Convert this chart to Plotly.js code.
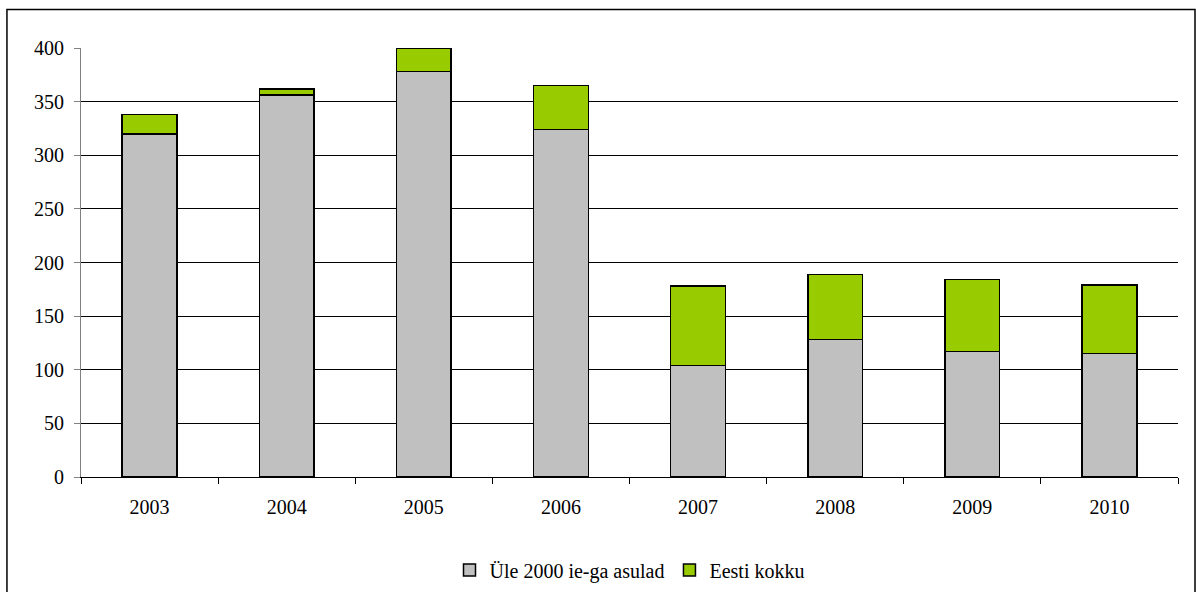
<!DOCTYPE html>
<html>
<head>
<meta charset="utf-8">
<script src="https://cdn.plot.ly/plotly-3.0.1.min.js"></script>
<style>
html,body{margin:0;padding:0;background:#fff;}
#chart{width:1196px;height:592px;}
</style>
</head>
<body>
<div id="chart"></div>
<script>
const years = ["2003","2004","2005","2006","2007","2008","2009","2010"];
const ule2000 = [320, 356, 378, 324, 104, 128, 117, 115];
const eestiKokku = [18, 6, 22, 41, 74, 61, 67, 64];
const seriesNames = ["Üle 2000 ie-ga asulad", "Eesti kokku"];
const yTicks = [0, 50, 100, 150, 200, 250, 300, 350, 400];

const font = {family: "'Liberation Serif', 'Times New Roman', Times, serif", size: 20, color: "#000"};

const traces = [
  {type: "bar", x: years, y: ule2000, name: seriesNames[0],
   marker: {color: "#C0C0C0", line: {color: "#000", width: 1.5}}},
  {type: "bar", x: years, y: eestiKokku, name: seriesNames[1],
   marker: {color: "#99CC00", line: {color: "#000", width: 1.5}}}
];

const layout = {
  width: 1196, height: 592,
  barmode: "stack",
  bargap: 0.6,
  font: font,
  paper_bgcolor: "#fff",
  plot_bgcolor: "#fff",
  margin: {l: 81, r: 18, t: 48, b: 115, autoexpand: false},
  showlegend: true,
  legend: {orientation: "h", x: 0.5, xanchor: "center", y: -0.217, yanchor: "middle",
           font: font, traceorder: "normal", itemwidth: 30},
  xaxis: {type: "category", showgrid: false, ticks: "outside", tickson: "boundaries",
          ticklen: 6, tickcolor: "#000", showline: true, linecolor: "#000", linewidth: 1,
          tickfont: font, zeroline: false, ticklabelstandoff: 12, automargin: false},
  yaxis: {range: [0, 400], tickvals: yTicks, showgrid: true, gridcolor: "#000", gridwidth: 1,
          ticks: "outside", ticklen: 6, tickcolor: "#808080", showline: true, linecolor: "#808080",
          linewidth: 1, tickfont: font, zeroline: false, ticklabelstandoff: 6, automargin: false},
  shapes: [
    {type: "rect", xref: "paper", yref: "paper", x0: -0.0675, x1: 1.0155, y0: -0.35, y1: 1.09,
     line: {color: "#000", width: 1.5}, fillcolor: "rgba(0,0,0,0)", layer: "below"}
  ]
};

Plotly.newPlot("chart", traces, layout, {displayModeBar: false, staticPlot: true});
</script>
</body>
</html>
